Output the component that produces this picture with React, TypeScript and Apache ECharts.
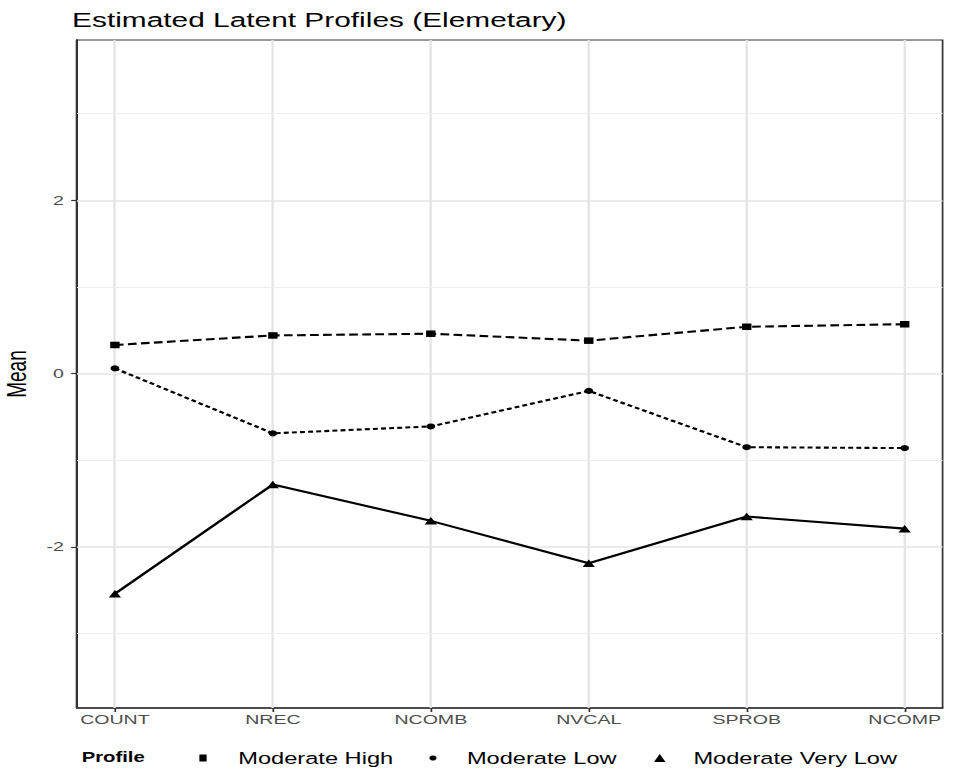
import React, { useEffect, useRef } from "react";
import * as echarts from "echarts";

const categories = ["COUNT", "NREC", "NCOMB", "NVCAL", "SPROB", "NCOMP"];
const moderateHigh = [0.33, 0.44, 0.46, 0.38, 0.54, 0.57];
const moderateLow = [0.06, -0.69, -0.61, -0.2, -0.85, -0.86];
const moderateVeryLow = [-2.54, -1.28, -1.7, -2.19, -1.65, -1.79];
const yMajorTicks = [-2, 0, 2];
const yMinorTicks = [-3, -1, 1, 3];
const seriesNames = ["Moderate High", "Moderate Low", "Moderate Very Low"];

const SX = 1.45;
const W = 953 / SX;
const FONT = "'Liberation Sans', Arial, Helvetica, sans-serif";

const toPoints = (vals: number[]) => categories.map((_, i) => [i, vals[i]]);

export default function App() {
  const ref = useRef<HTMLDivElement>(null);
  useEffect(() => {
    if (!ref.current) return;
    const chart = echarts.init(ref.current, null, { renderer: "svg" });
    const catIdx = categories.map((_, i) => i);
    const gridMark = {
      silent: true,
      symbol: "none",
      z: 1,
      label: { show: false },
      emphasis: { disabled: true },
      data: [
        ...catIdx.map((i) => ({ xAxis: i, lineStyle: { color: "#e4e4e4", width: 1.6, type: "solid" } })),
        ...yMajorTicks.map((v) => ({ yAxis: v, lineStyle: { color: "#e4e4e4", width: 1.7, type: "solid" } })),
        ...yMinorTicks.map((v) => ({ yAxis: v, lineStyle: { color: "#eeeeee", width: 1.1, type: "solid" } })),
      ],
    };
    const legendBase = {
      orient: "horizontal",
      padding: 0,
      top: 750,
      selectedMode: false,
      itemStyle: { borderWidth: 0 },
    };
    const legendText = (pad: number) => ({
      fontSize: 16.3,
      color: "#000",
      fontFamily: FONT,
      padding: [0, 0, 0, pad],
    });
    chart.setOption({
      animation: false,
      backgroundColor: "#fff",
      title: [
        {
          text: "Estimated Latent Profiles (Elemetary)",
          left: 49.7,
          top: 9,
          padding: 0,
          textStyle: { fontSize: 20.6, fontWeight: "normal", color: "#000", fontFamily: FONT },
        },
        {
          text: "Profile",
          left: 56.3,
          top: 750,
          padding: 0,
          textStyle: { fontSize: 14, fontWeight: "bold", color: "#000", fontFamily: FONT },
        },
      ],
      legend: [
        { ...legendBase, left: 137.5, itemWidth: 5, itemHeight: 7, data: [{ name: seriesNames[0], icon: "rect" }], textStyle: legendText(16.8) },
        { ...legendBase, left: 296.1, itemWidth: 5, itemHeight: 6, data: [{ name: seriesNames[1], icon: "circle" }], textStyle: legendText(15.9) },
        { ...legendBase, left: 451, itemWidth: 8, itemHeight: 8, data: [{ name: seriesNames[2], icon: "triangle" }], textStyle: legendText(14.2) },
      ],
      grid: {
        left: 53.1,
        right: W - 650.3,
        top: 40,
        bottom: 66,
        outerBoundsMode: "none",
        containLabel: false,
        show: true,
        borderColor: "#333",
        borderWidth: 1.2,
        backgroundColor: "#fff",
      },
      xAxis: {
        type: "value",
        min: -0.24,
        max: 5.24,
        axisLine: { show: true, onZero: false, lineStyle: { color: "#333", width: 1.6 } },
        axisTick: { show: true, length: 4, customValues: catIdx, lineStyle: { color: "#333", width: 1.2 } },
        axisLabel: {
          customValues: catIdx,
          formatter: (v: number) => categories[Math.round(v)] ?? "",
          color: "#4d4d4d",
          fontSize: 13.5,
          fontFamily: FONT,
          margin: 5,
        },
        splitLine: { show: false },
      },
      yAxis: {
        type: "value",
        min: -3.86,
        max: 3.85,
        name: "Mean",
        nameLocation: "middle",
        nameRotate: 90,
        nameGap: 31,
        nameTextStyle: { fontSize: 19, color: "#000", fontFamily: FONT },
        axisLine: { show: true, onZero: false, lineStyle: { color: "#333", width: 1.6 } },
        axisTick: { show: true, length: 4, customValues: yMajorTicks, lineStyle: { color: "#333", width: 1.2 } },
        axisLabel: {
          customValues: yMajorTicks,
          color: "#4d4d4d",
          fontSize: 13.5,
          fontFamily: FONT,
          margin: 9,
        },
        splitLine: { show: false },
      },
      series: [
        {
          name: seriesNames[0],
          type: "line",
          data: toPoints(moderateHigh),
          symbol: "rect",
          symbolSize: 6.5,
          showSymbol: true,
          z: 3,
          itemStyle: { color: "#000", borderWidth: 0 },
          lineStyle: { color: "#000", width: 2.1, type: [6, 3] },
          markLine: gridMark,
        },
        {
          name: seriesNames[1],
          type: "line",
          data: toPoints(moderateLow),
          symbol: "circle",
          symbolSize: 6,
          showSymbol: true,
          z: 3,
          itemStyle: { color: "#000", borderWidth: 0 },
          lineStyle: { color: "#000", width: 2.1, type: [3.4, 2.2] },
        },
        {
          name: seriesNames[2],
          type: "line",
          data: toPoints(moderateVeryLow),
          symbol: "triangle",
          symbolSize: [8.5, 7.5],
          showSymbol: true,
          z: 3,
          itemStyle: { color: "#000", borderWidth: 0 },
          lineStyle: { color: "#000", width: 2.1, type: "solid" },
        },
      ],
    });
    return () => chart.dispose();
  }, []);
  return (
    <div
      ref={ref}
      style={{
        position: "fixed",
        left: 0,
        top: 0,
        width: W,
        height: 774,
        transform: `scaleX(${SX})`,
        transformOrigin: "0 0",
        background: "#fff",
      }}
    />
  );
}
